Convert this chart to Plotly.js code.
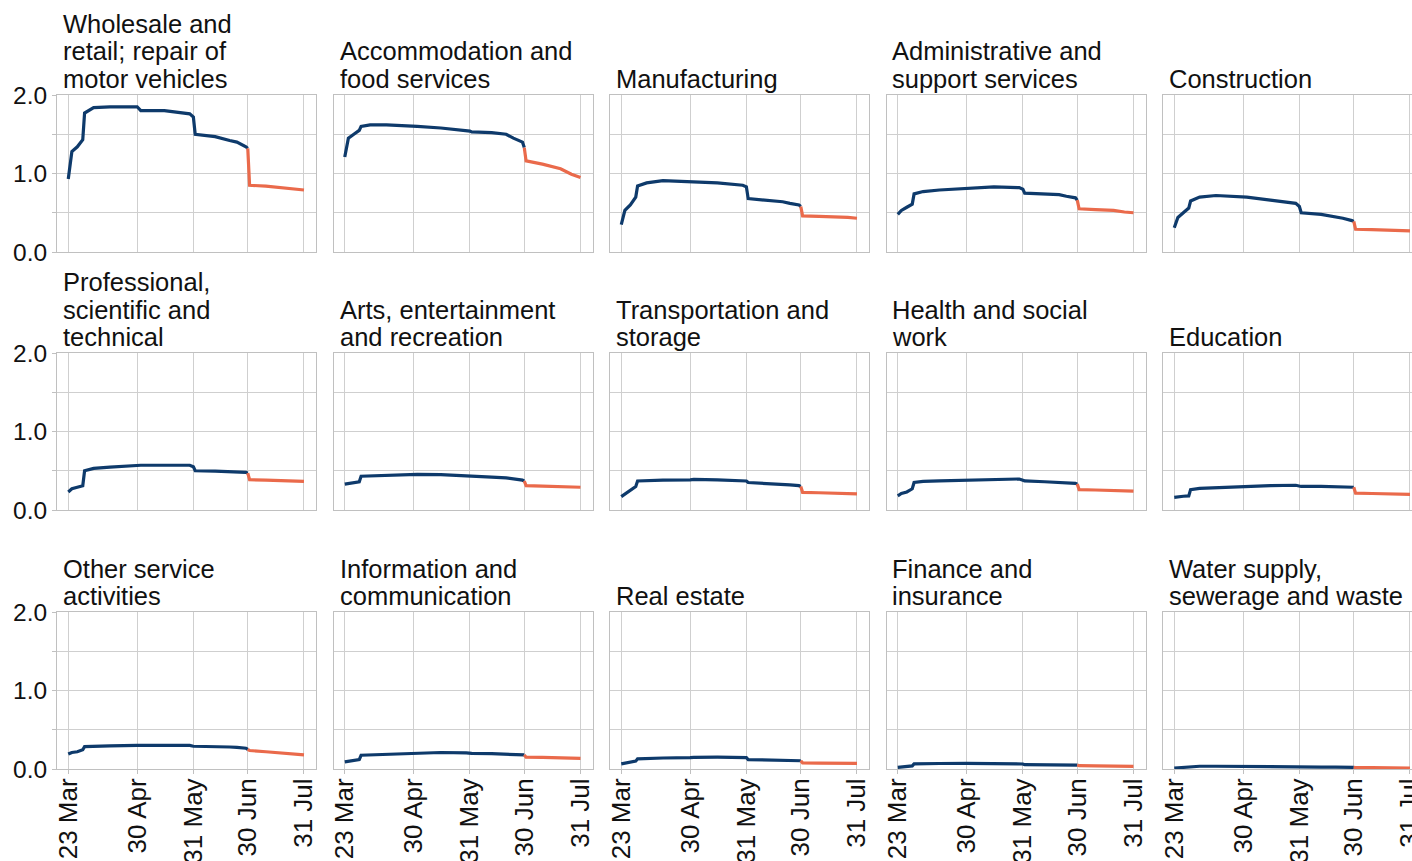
<!DOCTYPE html>
<html><head><meta charset="utf-8">
<script src="https://cdn.plot.ly/plotly-3.0.1.min.js"></script>
<style>html,body{margin:0;padding:0;overflow:hidden;background:#fff}</style>
</head><body><div id="chart" style="width:1430px;height:861px"></div>
<script>
// ---- data ----
const sectorTitles = [
  'Wholesale and<br>retail; repair of<br>motor vehicles',
  'Accommodation and<br>food services',
  'Manufacturing',
  'Administrative and<br>support services',
  'Construction',
  'Professional,<br>scientific and<br>technical',
  'Arts, entertainment<br>and recreation',
  'Transportation and<br>storage',
  'Health and social<br>work',
  'Education',
  'Other service<br>activities',
  'Information and<br>communication',
  'Real estate',
  'Finance and<br>insurance',
  'Water supply,<br>sewerage and waste'
];

const blueDates = ['2020-03-23','2020-03-25','2020-03-28','2020-03-31','2020-04-01','2020-04-06','2020-04-15',
  '2020-04-30','2020-05-02','2020-05-15','2020-05-29','2020-05-31','2020-06-01','2020-06-12','2020-06-20',
  '2020-06-24','2020-06-29','2020-06-30'];
const orangeDates = ['2020-06-30','2020-07-01','2020-07-10','2020-07-20','2020-07-26','2020-07-31'];

const blueValues = [
  [0.93,1.28,1.34,1.43,1.77,1.84,1.85,1.85,1.80,1.80,1.76,1.72,1.50,1.47,1.42,1.40,1.34,1.32],
  [1.21,1.45,1.50,1.55,1.60,1.62,1.62,1.61,1.60,1.58,1.55,1.54,1.53,1.52,1.50,1.45,1.40,1.33],
  [0.35,0.53,0.60,0.70,0.84,0.88,0.91,0.90,0.89,0.88,0.85,0.83,0.68,0.66,0.64,0.62,0.60,0.58],
  [0.48,0.53,0.57,0.61,0.74,0.77,0.79,0.81,0.82,0.83,0.82,0.80,0.75,0.74,0.73,0.71,0.69,0.66],
  [0.31,0.44,0.50,0.56,0.65,0.70,0.72,0.71,0.70,0.66,0.62,0.58,0.50,0.48,0.45,0.43,0.40,0.39],
  [0.23,0.27,0.29,0.31,0.50,0.53,0.545,0.56,0.57,0.57,0.57,0.55,0.50,0.495,0.49,0.485,0.48,0.47],
  [0.33,0.34,0.35,0.36,0.43,0.435,0.44,0.45,0.455,0.45,0.44,0.435,0.43,0.42,0.41,0.40,0.38,0.37],
  [0.17,0.20,0.25,0.30,0.37,0.375,0.38,0.385,0.39,0.385,0.38,0.37,0.35,0.34,0.33,0.32,0.31,0.30],
  [0.18,0.21,0.23,0.27,0.35,0.365,0.37,0.38,0.385,0.395,0.395,0.38,0.37,0.36,0.355,0.35,0.34,0.33],
  [0.16,0.17,0.175,0.18,0.26,0.275,0.285,0.295,0.30,0.31,0.315,0.31,0.30,0.30,0.30,0.295,0.29,0.29],
  [0.19,0.21,0.22,0.245,0.285,0.29,0.295,0.30,0.30,0.305,0.30,0.29,0.29,0.285,0.28,0.275,0.265,0.25],
  [0.09,0.10,0.11,0.12,0.175,0.18,0.19,0.20,0.205,0.21,0.205,0.20,0.20,0.195,0.19,0.19,0.185,0.18],
  [0.065,0.075,0.09,0.10,0.13,0.135,0.14,0.145,0.148,0.15,0.15,0.145,0.12,0.115,0.11,0.11,0.106,0.105],
  [0.02,0.025,0.03,0.04,0.065,0.07,0.07,0.072,0.072,0.072,0.068,0.064,0.055,0.052,0.05,0.05,0.05,0.05],
  [0.012,0.015,0.02,0.025,0.033,0.035,0.035,0.035,0.034,0.032,0.03,0.028,0.026,0.025,0.024,0.023,0.022,0.021]
];
const orangeValues = [
  [1.32,0.85,0.84,0.82,0.80,0.79],
  [1.33,1.16,1.12,1.06,0.99,0.95],
  [0.58,0.46,0.455,0.45,0.44,0.43],
  [0.66,0.55,0.54,0.53,0.51,0.50],
  [0.39,0.29,0.285,0.28,0.275,0.27],
  [0.47,0.385,0.38,0.375,0.37,0.365],
  [0.37,0.31,0.305,0.30,0.295,0.29],
  [0.30,0.225,0.22,0.215,0.21,0.205],
  [0.33,0.26,0.255,0.25,0.245,0.24],
  [0.29,0.215,0.21,0.21,0.205,0.20],
  [0.25,0.235,0.22,0.205,0.19,0.18],
  [0.18,0.15,0.148,0.145,0.14,0.136],
  [0.105,0.078,0.076,0.075,0.073,0.072],
  [0.05,0.042,0.04,0.038,0.036,0.034],
  [0.021,0.018,0.017,0.016,0.014,0.013]
];

const xTickDates = ['2020-03-23','2020-04-30','2020-05-31','2020-06-30','2020-07-31'];
const xTickLabels = ['23 Mar','30 Apr','31 May','30 Jun','31 Jul'];
const yTickVals = [0, 0.5, 1, 1.5, 2];
const yTickLabels = ['0.0', '', '1.0', '', '2.0'];

// ---- layout geometry ----
const W = 1430, H = 861;
const colLeft = [57, 333.5, 610, 886.5, 1163];
const panelW = 259;
const rowTop = [95, 353, 612];
const panelH = 157;
const blue = '#0e3a6b', orange = '#ea6a4b';
const grid = '#cfcfcf', border = '#c0c0c0';
const fontFam = 'Liberation Sans, Arial, sans-serif';

const traces = [];
const layout = {
  width: W, height: H,
  margin: {l: 0, r: 0, t: 0, b: 0},
  paper_bgcolor: '#fff', plot_bgcolor: '#fff',
  showlegend: false,
  font: {family: fontFam, color: '#111', size: 24},
  annotations: []
};

sectorTitles.forEach((title, i) => {
  const r = Math.floor(i / 5), c = i % 5;
  const n = i + 1;
  const xa = 'x' + n, ya = 'y' + n;
  traces.push({x: blueDates, y: blueValues[i], xaxis: xa, yaxis: ya, mode: 'lines',
    line: {color: blue, width: 3.2}, hoverinfo: 'skip'});
  traces.push({x: orangeDates, y: orangeValues[i], xaxis: xa, yaxis: ya, mode: 'lines',
    line: {color: orange, width: 3.2}, hoverinfo: 'skip'});
  const l = colLeft[c], t = rowTop[r];
  layout['xaxis' + n] = {
    type: 'date', anchor: ya,
    domain: [l / W, (l + panelW) / W],
    range: ['2020-03-16 19:00', '2020-08-06 15:00'],
    tickmode: 'array', tickvals: xTickDates, ticktext: xTickLabels,
    tickangle: -90, showticklabels: r === 2,
    tickfont: {size: 26, color: '#111', family: fontFam},
    ticklabelstandoff: -6,
    showgrid: true, gridcolor: grid, gridwidth: 1,
    showline: true, mirror: true, linecolor: border, linewidth: 1,
    ticks: r === 2 ? 'outside' : '', ticklen: 4, tickcolor: border,
    zeroline: false, fixedrange: true
  };
  layout['yaxis' + n] = {
    anchor: xa,
    domain: [1 - (t + panelH) / H, 1 - t / H],
    range: [0, 2],
    tickmode: 'array', tickvals: yTickVals, ticktext: yTickLabels,
    showticklabels: c === 0,
    tickfont: {size: 24.5, color: '#111', family: fontFam},
    showgrid: true, gridcolor: grid, gridwidth: 1,
    showline: true, mirror: true, linecolor: border, linewidth: 1,
    ticks: c === 0 ? 'outside' : '', ticklen: 4, tickcolor: border,
    zeroline: false, fixedrange: true
  };
  const lines = title.split('<br>');
  lines.forEach((txt, k) => {
    const cy = t - 16 - (lines.length - 1 - k) * 27.5;
    layout.annotations.push({
      text: txt, xref: 'paper', yref: 'paper',
      x: (l + 4) / W, y: 1 - cy / H,
      xanchor: 'left', yanchor: 'middle', showarrow: false,
      font: {size: 25.5, color: '#111', family: fontFam}
    });
  });
});

Plotly.newPlot('chart', traces, layout, {displayModeBar: false, staticPlot: true});
</script>
</body></html>
